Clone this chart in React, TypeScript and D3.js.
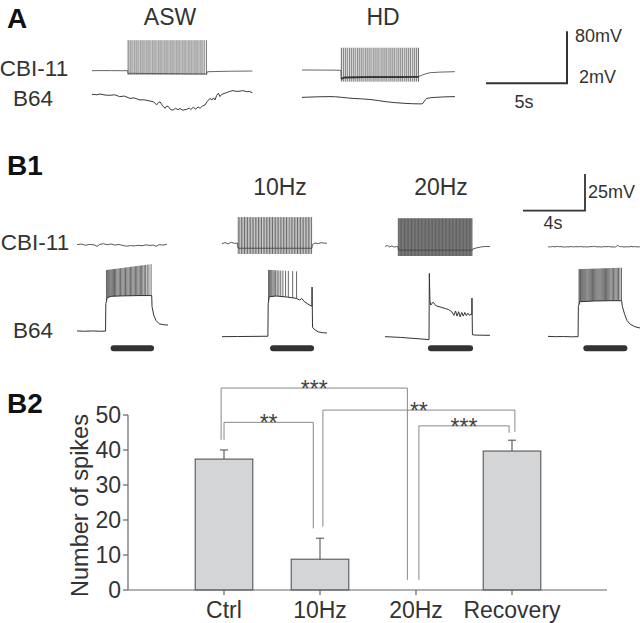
import React from 'react';
import * as d3 from 'd3';

type Pt = [number, number];
type Burst = { times: number[]; peak: Pt[]; trough: Pt[] };

// ---------------- Panel A data (time s, mV relative to rest) ----------------
const A_ASW_CBI: Pt[] = [[0,0],[0.6,0.2],[1.2,0.1],[1.8,0],[2.2,0],[2.22,-4],[7.08,-5],[7.12,-1.6],[7.6,-1.3],[8.5,-0.8],[9.9,-0.5]];
const A_ASW_SPIKES = [2.23,2.35,2.47,2.60,2.72,2.84,2.97,3.09,3.21,3.34,3.46,3.58,3.71,3.83,3.95,4.08,4.20,4.32,4.45,4.57,4.69,4.82,4.94,5.06,5.19,5.31,5.43,5.56,5.68,5.80,5.93,6.05,6.17,6.30,6.42,6.54,6.67,6.79,6.92,7.06];
const A_ASW_PEAK: Pt[] = [[0,47]];
const A_ASW_TROUGH: Pt[] = [[0,-6.6]];
const A_ASW_B64: Pt[] = [[0,-0.01],[0.3,-0.03],[0.5,0.0],[0.8,-0.04],[1.1,-0.05],[1.4,-0.03],[1.7,-0.1],[2.0,-0.08],[2.35,-0.17],[2.6,-0.15],[2.96,-0.23],[3.2,-0.22],[3.58,-0.27],[3.8,-0.3],[3.99,-0.42],[4.1,-0.33],[4.2,-0.3],[4.35,-0.45],[4.51,-0.55],[4.6,-0.47],[4.71,-0.48],[4.85,-0.6],[5.0,-0.62],[5.15,-0.55],[5.3,-0.6],[5.43,-0.56],[5.6,-0.62],[5.85,-0.59],[6.0,-0.54],[6.1,-0.6],[6.25,-0.51],[6.4,-0.58],[6.55,-0.5],[6.67,-0.55],[6.8,-0.47],[6.98,-0.42],[7.1,-0.3],[7.28,-0.17],[7.4,-0.23],[7.5,-0.15],[7.59,-0.23],[7.7,-0.05],[7.8,0.03],[7.9,-0.1],[8.0,-0.02],[8.15,0.02],[8.31,0.05],[8.5,0.1],[8.7,0.13],[8.9,0.1],[9.14,0.11],[9.3,0.13],[9.55,0.09],[9.7,0.1],[9.9,0.05]];

const A_HD_CBI: Pt[] = [[0,1.1],[1,1.0],[2,0.8],[2.4,0.6],[2.42,-13],[2.6,-10],[4,-9.2],[6,-9.2],[7.2,-9],[7.28,-8.2],[7.6,-5],[7.9,-3.1],[8.5,-2.2],[9.44,-1.5]];
const A_HD_BAND: Pt[] = [[2.42,-12.5],[2.6,-10.5],[4,-10],[6,-10],[7.2,-9.6]];
const A_HD_SPIKES = [2.43,2.55,2.67,2.79,2.92,3.04,3.16,3.28,3.41,3.53,3.65,3.77,3.90,4.02,4.14,4.26,4.39,4.51,4.63,4.75,4.88,5.00,5.12,5.24,5.37,5.49,5.61,5.73,5.86,5.98,6.10,6.22,6.35,6.47,6.59,6.71,6.84,6.96,7.08,7.19];
const A_HD_PEAK: Pt[] = [[0,35.4]];
const A_HD_TROUGH: Pt[] = [[0,-16.9]];
const A_HD_B64: Pt[] = [[0,-0.13],[1.73,-0.1],[3.15,-0.17],[4.2,-0.21],[5.23,-0.3],[6.36,-0.36],[7.28,-0.38],[7.4,-0.38],[7.7,-0.17],[8.2,-0.13],[9.44,-0.1]];

// ---------------- Panel B1 data ----------------
const B1_COL_TITLES = ['', '10Hz', '20Hz', ''];

const C1_CBI: Pt[] = [[0,0.3],[0.3,0.6],[0.55,-0.2],[0.8,0.4],[1.1,0.1],[1.3,-0.9],[1.45,0.3],[1.7,0.9],[1.95,0.2],[2.2,0.7],[2.45,-0.1],[2.7,0.4],[2.95,-0.3],[3.2,-0.8],[3.45,-0.4],[3.7,-0.6],[3.95,-0.2],[4.2,-0.5],[4.45,0.1],[4.7,-0.3],[4.95,-0.1],[5.1,-0.9],[5.3,0.2],[5.55,0],[5.8,0.4]];
const C1_B64: Pt[] = [[0,1.4],[0.5,1.2],[1.0,1.4],[1.5,1.2],[1.84,1.3],[1.86,20],[1.95,24],[2.2,25],[3,25.3],[4,25.5],[4.82,25.5],[4.84,18],[4.95,12.2],[5.1,8.5],[5.3,6.3],[5.6,5.6],[5.87,5.4]];
const C1_B64_SPIKES = [1.90,1.96,2.02,2.08,2.14,2.21,2.28,2.35,2.42,2.49,2.57,2.65,2.73,2.81,2.89,2.97,3.05,3.13,3.21,3.29,3.37,3.45,3.53,3.61,3.69,3.77,3.85,3.93,4.01,4.09,4.17,4.25,4.34,4.43,4.53,4.64,4.78];
const C1_B64_PEAK: Pt[] = [[1.9,42.9],[4.8,46.9]];

const C2_CBI: Pt[] = [[0,1.0],[0.2,1.6],[0.4,0.8],[0.6,1.9],[0.8,1.1],[1.0,1.3],[1.03,-2],[1.1,-2.2],[5.8,-2.2],[5.83,0.2],[6.0,1.4],[6.2,0.9],[6.4,1.6],[6.6,1.2],[6.77,1.3]];
const C2_CBI_SPIKES = [1.05,1.15,1.25,1.35,1.45,1.55,1.65,1.75,1.85,1.95,2.05,2.15,2.25,2.35,2.45,2.55,2.66,2.76,2.86,2.96,3.06,3.16,3.26,3.36,3.46,3.56,3.66,3.76,3.86,3.96,4.06,4.16,4.26,4.37,4.47,4.57,4.67,4.77,4.87,4.97,5.07,5.17,5.27,5.37,5.47,5.57,5.67,5.78];
const C2_CBI_PEAK: Pt[] = [[0,19]];
const C2_CBI_TROUGH: Pt[] = [[0,-6.1]];
const C2_B64: Pt[] = [[0,-2.5],[1,-2.4],[2,-2.3],[2.96,-2.2],[2.98,20],[3.05,24.7],[3.5,25.2],[4.2,24.5],[4.8,23.6],[5.0,22.5],[5.15,23.5],[5.3,21.5],[5.5,20],[5.8,18.2],[5.81,31.3],[5.84,4],[5.95,2.5],[6.2,0.8],[6.5,0.2],[6.77,0]];
const C2_B64_SPIKES = [3.0,3.07,3.14,3.21,3.29,3.37,3.46,3.56,3.67,3.79,3.93,4.1,4.28,4.56,4.81];
const C2_B64_PEAK: Pt[] = [[3,43],[4.8,42]];

const C3_CBI: Pt[] = [[0,-1.0],[0.15,-0.3],[0.3,-1.3],[0.45,-0.6],[0.6,-1.5],[0.75,-1.0],[0.84,-1.2],[0.86,-3.5],[5.64,-3.5],[5.68,-2.6],[5.9,-2.0],[6.2,-1.3],[6.5,-1.0],[6.77,-1.1]];
const C3_CBI_SPIKES = [0.86,0.91,0.96,1.01,1.06,1.11,1.16,1.21,1.26,1.31,1.36,1.41,1.46,1.51,1.56,1.61,1.66,1.71,1.76,1.81,1.86,1.91,1.96,2.01,2.06,2.11,2.16,2.21,2.26,2.31,2.36,2.41,2.46,2.51,2.56,2.61,2.66,2.71,2.76,2.81,2.86,2.91,2.96,3.01,3.06,3.11,3.16,3.21,3.26,3.31,3.36,3.41,3.46,3.51,3.56,3.61,3.66,3.71,3.76,3.81,3.86,3.91,3.96,4.01,4.06,4.11,4.16,4.21,4.26,4.31,4.36,4.41,4.46,4.51,4.56,4.61,4.66,4.71,4.76,4.81,4.86,4.91,4.96,5.01,5.06,5.11,5.16,5.21,5.26,5.31,5.36,5.41,5.46,5.51,5.56,5.61];
const C3_CBI_PEAK: Pt[] = [[0,18.2]];
const C3_CBI_TROUGH: Pt[] = [[0,-7.5]];
const C3_B64: Pt[] = [[0,-2.5],[1,-3.0],[2,-3.8],[2.84,-4.5],[2.86,40.6],[2.9,22],[2.95,19],[3.1,21],[3.3,18.5],[3.6,17.6],[3.9,16.6],[4.1,16],[4.3,14.5],[4.45,12],[4.55,15],[4.65,11.5],[4.75,14.5],[4.85,11],[4.95,14],[5.05,11.5],[5.15,14],[5.25,11.8],[5.35,13.5],[5.45,12],[5.55,13],[5.6,12.5],[5.61,23.8],[5.64,-1.2],[5.8,-1.4],[6.2,-1.5],[6.77,-1.6]];

const C4_CBI: Pt[] = [[0,-1.0],[0.15,-1.6],[0.3,-0.8],[0.45,-1.5],[0.6,-0.7],[0.75,-1.4],[0.9,-0.9],[1.05,-1.7],[1.2,-1.0],[1.35,-1.5],[1.5,-0.8],[1.65,-1.6],[1.8,-0.9],[1.95,-1.4],[2.1,-0.8],[2.25,-1.5],[2.4,-1.0],[2.55,-1.6],[2.7,-0.9],[2.85,-1.3],[3.0,-0.7],[3.15,-1.5],[3.3,-1.0],[3.45,-1.6],[3.6,-0.9],[3.75,-1.4],[3.9,-0.8],[4.05,-1.5],[4.2,-1.1],[4.35,-1.7],[4.5,0.2],[4.6,-1.3],[4.75,-0.9],[4.9,-1.6],[5.05,-1.0],[5.2,-1.5],[5.35,-0.8],[5.5,-1.4],[5.65,-0.9],[5.8,-1.5],[5.94,-1.1]];
const C4_B64: Pt[] = [[0,-2.3],[0.5,-2.5],[1,-2.4],[1.5,-2.6],[1.94,-2.5],[1.96,18],[2.05,21.3],[3,21.8],[4,22],[4.75,22],[4.8,18],[4.95,12.5],[5.1,8.5],[5.3,6],[5.6,4.3],[5.94,3.4]];
const C4_B64_SPIKES = [2.00,2.05,2.10,2.15,2.21,2.27,2.33,2.39,2.45,2.52,2.59,2.66,2.73,2.80,2.87,2.94,3.01,3.08,3.15,3.22,3.29,3.36,3.43,3.50,3.57,3.64,3.71,3.78,3.85,3.92,3.99,4.07,4.15,4.23,4.31,4.39,4.47,4.55,4.64,4.74];
const C4_B64_PEAK: Pt[] = [[2,43.5],[4.75,44.5]];

const STIM_BARS: Pt[] = [[2.17,4.97],[3.1,5.94],[2.77,5.68],[2.28,5.12]];
const STIM_LEVEL = -10.4; // mV level on the B64 scale where the stimulus bar sits

// ---------------- Panel B2 data ----------------
const CATEGORIES = ['Ctrl', '10Hz', '20Hz', 'Recovery'];
const MEANS = [37.4, 8.8, 0, 39.7];
const SEMS = [2.6, 6.0, 0, 3.1];
const Y_TICKS = [0, 10, 20, 30, 40, 50];
const SIG_PAIRS = [
  { a: 0, b: 2, label: '***', level: 57.7, endA: 42.9, endB: 2.9, offA: -0.03, offB: -0.09 },
  { a: 0, b: 1, label: '**', level: 47.9, endA: 42.9, endB: 17.6, offA: 0.0, offB: -0.07 },
  { a: 1, b: 3, label: '**', level: 51.4, endA: 18.1, endB: 45.2, offA: 0.03, offB: 0.03 },
  { a: 2, b: 3, label: '***', level: 46.9, endA: 2.9, endB: 44.9, offA: 0.03, offB: -0.03 },
];

const FONT = "'Liberation Sans', Arial, Helvetica, sans-serif";
const TXT = '#333';

function valueAt(pts: Pt[], t: number): number {
  if (pts.length === 1 || t <= pts[0][0]) return pts[0][1];
  for (let i = 1; i < pts.length; i++) {
    if (t <= pts[i][0]) {
      const [t0, v0] = pts[i - 1];
      const [t1, v1] = pts[i];
      return v0 + ((v1 - v0) * (t - t0)) / (t1 - t0);
    }
  }
  return pts[pts.length - 1][1];
}

type TraceProps = {
  x: d3.ScaleLinear<number, number>;
  y: d3.ScaleLinear<number, number>;
  base: Pt[];
  bursts?: Burst[];
  curve?: d3.CurveFactory;
  color?: string;
  width?: number;
  spikeColor?: string;
  spikeWidth?: number;
};

function Trace({ x, y, base, bursts = [], curve = d3.curveLinear, color = '#3c3c3c', width = 1, spikeColor = '#444', spikeWidth = 0.9 }: TraceProps) {
  const line = d3.line<Pt>().x((d) => x(d[0])).y((d) => y(d[1])).curve(curve);
  return (
    <g>
      {bursts.map((b, bi) =>
        b.times.map((t, i) => (
          <line key={`${bi}-${i}`} x1={x(t)} x2={x(t)} y1={y(valueAt(b.trough, t))} y2={y(valueAt(b.peak, t))} stroke={spikeColor} strokeWidth={spikeWidth} />
        ))
      )}
      <path d={line(base) || ''} fill="none" stroke={color} strokeWidth={width} strokeLinejoin="round" />
    </g>
  );
}

export default function App() {
  // Panel A scales
  const aX = (x0: number) => d3.scaleLinear().domain([0, 5]).range([x0, x0 + 81]);
  const aCbiY = d3.scaleLinear().domain([0, 80]).range([70.7, 18.7]);
  const aB64Y = d3.scaleLinear().domain([0, 2]).range([94, 42]);
  const aAswX = aX(92);
  const aHdX = aX(302);
  const aBarX = aX(486);
  const aBarY = d3.scaleLinear().domain([0, 80]).range([83.3, 31.3]);

  // Panel B1 scales
  const bX = (x0: number) => d3.scaleLinear().domain([0, 4]).range([x0, x0 + 62]);
  const bCbiY = d3.scaleLinear().domain([0, 25]).range([245, 208.3]);
  const bB64Y = d3.scaleLinear().domain([0, 25]).range([333, 296.3]);
  const colX0 = [77, 222, 385, 548];
  const colX = colX0.map(bX);
  const bBarX = bX(523);
  const bBarY = d3.scaleLinear().domain([0, 25]).range([210.7, 174]);

  const cbiTraces = [
    { base: C1_CBI, bursts: [] as Burst[], curve: d3.curveLinear },
    { base: C2_CBI, bursts: [{ times: C2_CBI_SPIKES, peak: C2_CBI_PEAK, trough: C2_CBI_TROUGH }], curve: d3.curveLinear },
    { base: C3_CBI, bursts: [{ times: C3_CBI_SPIKES, peak: C3_CBI_PEAK, trough: C3_CBI_TROUGH }], curve: d3.curveLinear },
    { base: C4_CBI, bursts: [] as Burst[], curve: d3.curveBasis },
  ];
  const b64Traces = [
    { base: C1_B64, bursts: [{ times: C1_B64_SPIKES, peak: C1_B64_PEAK, trough: C1_B64 }] },
    { base: C2_B64, bursts: [{ times: C2_B64_SPIKES, peak: C2_B64_PEAK, trough: C2_B64 }] },
    { base: C3_B64, bursts: [] as Burst[] },
    { base: C4_B64, bursts: [{ times: C4_B64_SPIKES, peak: C4_B64_PEAK, trough: C4_B64 }] },
  ];

  // Panel B2 scales
  const x2 = d3.scaleLinear().domain([0, 5]).range([128, 608]);
  const y2 = d3.scaleLinear().domain([0, 50]).range([590, 415]);
  const barW = 0.6;
  const axisColor = '#666';
  const bandLine = d3.line<Pt>().x((d) => aHdX(d[0])).y((d) => aCbiY(d[1]));

  return (
    <svg width={640} height={623} style={{ position: 'absolute', left: 0, top: 0, background: '#fff' }} fontFamily={FONT}>
      <rect x={0} y={0} width={640} height={623} fill="#fff" />
      {/* ---------------- Panel A ---------------- */}
      <text x={7} y={28} fontSize={28} fontWeight="bold" fill="#111">A</text>
      <text x={170} y={25} fontSize={23} textAnchor="middle" fill={TXT}>ASW</text>
      <text x={383} y={25} fontSize={23} textAnchor="middle" fill={TXT}>HD</text>
      <text x={34} y={76} fontSize={22.5} textAnchor="middle" fill={TXT}>CBI-11</text>
      <text x={33} y={106} fontSize={22.5} textAnchor="middle" fill={TXT}>B64</text>

      <Trace x={aAswX} y={aCbiY} base={A_ASW_CBI} bursts={[{ times: A_ASW_SPIKES, peak: A_ASW_PEAK, trough: A_ASW_TROUGH }]} color="#555" width={0.9} spikeColor="#6a6a6a" spikeWidth={1} />
      <Trace x={aAswX} y={aB64Y} base={A_ASW_B64} color="#3a3a3a" width={1} />
      <Trace x={aHdX} y={aCbiY} base={A_HD_CBI} bursts={[{ times: A_HD_SPIKES, peak: A_HD_PEAK, trough: A_HD_TROUGH }]} color="#555" width={0.9} spikeColor="#6a6a6a" spikeWidth={1} />
      <path d={bandLine(A_HD_BAND) || ''} fill="none" stroke="#333" strokeWidth={1.8} />
      <Trace x={aHdX} y={aB64Y} base={A_HD_B64} curve={d3.curveMonotoneX} color="#3a3a3a" width={1} />

      {/* scale bar A */}
      <path d={`M${aBarX(0)},${aBarY(0)}H${aBarX(5)}V${aBarY(80)}`} fill="none" stroke="#333" strokeWidth={2} />
      <text x={575} y={42} fontSize={18} fill={TXT}>80mV</text>
      <text x={579} y={83} fontSize={18} fill={TXT}>2mV</text>
      <text x={524} y={108} fontSize={18} textAnchor="middle" fill={TXT}>5s</text>

      {/* ---------------- Panel B1 ---------------- */}
      <text x={7} y={175} fontSize={28} fontWeight="bold" fill="#111">B1</text>
      {B1_COL_TITLES.map((t, i) =>
        t ? (
          <text key={i} x={[0, 280, 441, 0][i]} y={195} fontSize={23} textAnchor="middle" fill={TXT}>{t}</text>
        ) : null
      )}
      <text x={35} y={250} fontSize={22.5} textAnchor="middle" fill={TXT}>CBI-11</text>
      <text x={33} y={338} fontSize={22.5} textAnchor="middle" fill={TXT}>B64</text>

      {cbiTraces.map((c, i) => (
        <Trace key={`c${i}`} x={colX[i]} y={bCbiY} base={c.base} bursts={c.bursts} curve={c.curve} color="#444" width={0.9} spikeColor={i === 2 ? '#555' : '#5a5a5a'} spikeWidth={i === 2 ? 0.9 : 0.9} />
      ))}
      {b64Traces.map((c, i) => (
        <Trace key={`b${i}`} x={colX[i]} y={bB64Y} base={c.base} bursts={c.bursts} color="#333" width={1} spikeColor="#444" spikeWidth={0.8} />
      ))}
      {STIM_BARS.map((b, i) => (
        <rect key={`s${i}`} x={colX[i](b[0])} y={bB64Y(STIM_LEVEL) - 3} width={colX[i](b[1]) - colX[i](b[0])} height={6} rx={3} fill="#333" />
      ))}

      {/* scale bar B1 */}
      <path d={`M${bBarX(0)},${bBarY(0)}H${bBarX(4)}V${bBarY(25)}`} fill="none" stroke="#333" strokeWidth={1.8} />
      <text x={588} y={198} fontSize={18} fill={TXT}>25mV</text>
      <text x={553} y={229} fontSize={18} textAnchor="middle" fill={TXT}>4s</text>

      {/* ---------------- Panel B2 ---------------- */}
      <text x={7} y={413} fontSize={28} fontWeight="bold" fill="#111">B2</text>
      <text transform={`translate(88,${(y2(0) + y2(50)) / 2 + 3}) rotate(-90)`} fontSize={23.5} textAnchor="middle" fill={TXT}>Number of spikes</text>

      {/* bars */}
      {CATEGORIES.map((c, i) =>
        MEANS[i] > 0 ? (
          <rect key={c} x={x2(i + 1 - barW / 2)} y={y2(MEANS[i])} width={x2(i + 1 + barW / 2) - x2(i + 1 - barW / 2)} height={y2(0) - y2(MEANS[i])} fill="#d4d5d7" stroke="#555" strokeWidth={1.1} />
        ) : null
      )}
      {/* error bars */}
      {CATEGORIES.map((c, i) =>
        SEMS[i] > 0 ? (
          <g key={`e${c}`} stroke="#555" strokeWidth={1.1}>
            <line x1={x2(i + 1)} x2={x2(i + 1)} y1={y2(MEANS[i])} y2={y2(MEANS[i] + SEMS[i])} />
            <line x1={x2(i + 1) - 4} x2={x2(i + 1) + 4} y1={y2(MEANS[i] + SEMS[i])} y2={y2(MEANS[i] + SEMS[i])} />
          </g>
        ) : null
      )}

      {/* axes */}
      <line x1={x2(0)} x2={x2(0)} y1={y2(50)} y2={y2(0)} stroke={axisColor} strokeWidth={1.2} />
      <line x1={x2(0)} x2={x2(4.99)} y1={y2(0)} y2={y2(0)} stroke={axisColor} strokeWidth={1.2} />
      {Y_TICKS.map((t) => (
        <g key={`yt${t}`}>
          <line x1={x2(0) - 5} x2={x2(0)} y1={y2(t)} y2={y2(t)} stroke={axisColor} strokeWidth={1.2} />
          <text x={121} y={y2(t)} dy="0.36em" fontSize={23} textAnchor="end" fill={TXT}>{t}</text>
        </g>
      ))}
      {CATEGORIES.map((c, i) => (
        <g key={`xt${c}`}>
          <line x1={x2(i + 1)} x2={x2(i + 1)} y1={y2(0)} y2={y2(0) + 5} stroke={axisColor} strokeWidth={1.2} />
          <text x={x2(i + 1)} y={618} fontSize={23} textAnchor="middle" fill={TXT}>{c}</text>
        </g>
      ))}

      {/* significance brackets */}
      {SIG_PAIRS.map((s, k) => {
        const xa = x2(s.a + 1 + s.offA);
        const xb = x2(s.b + 1 + s.offB);
        return (
          <g key={`sig${k}`}>
            <path d={`M${xa},${y2(s.endA)}V${y2(s.level)}H${xb}V${y2(s.endB)}`} fill="none" stroke="#888" strokeWidth={1} />
            <text x={(xa + xb) / 2} y={y2(s.level) + 9} fontSize={23} textAnchor="middle" fill="#444">{s.label}</text>
          </g>
        );
      })}
    </svg>
  );
}
